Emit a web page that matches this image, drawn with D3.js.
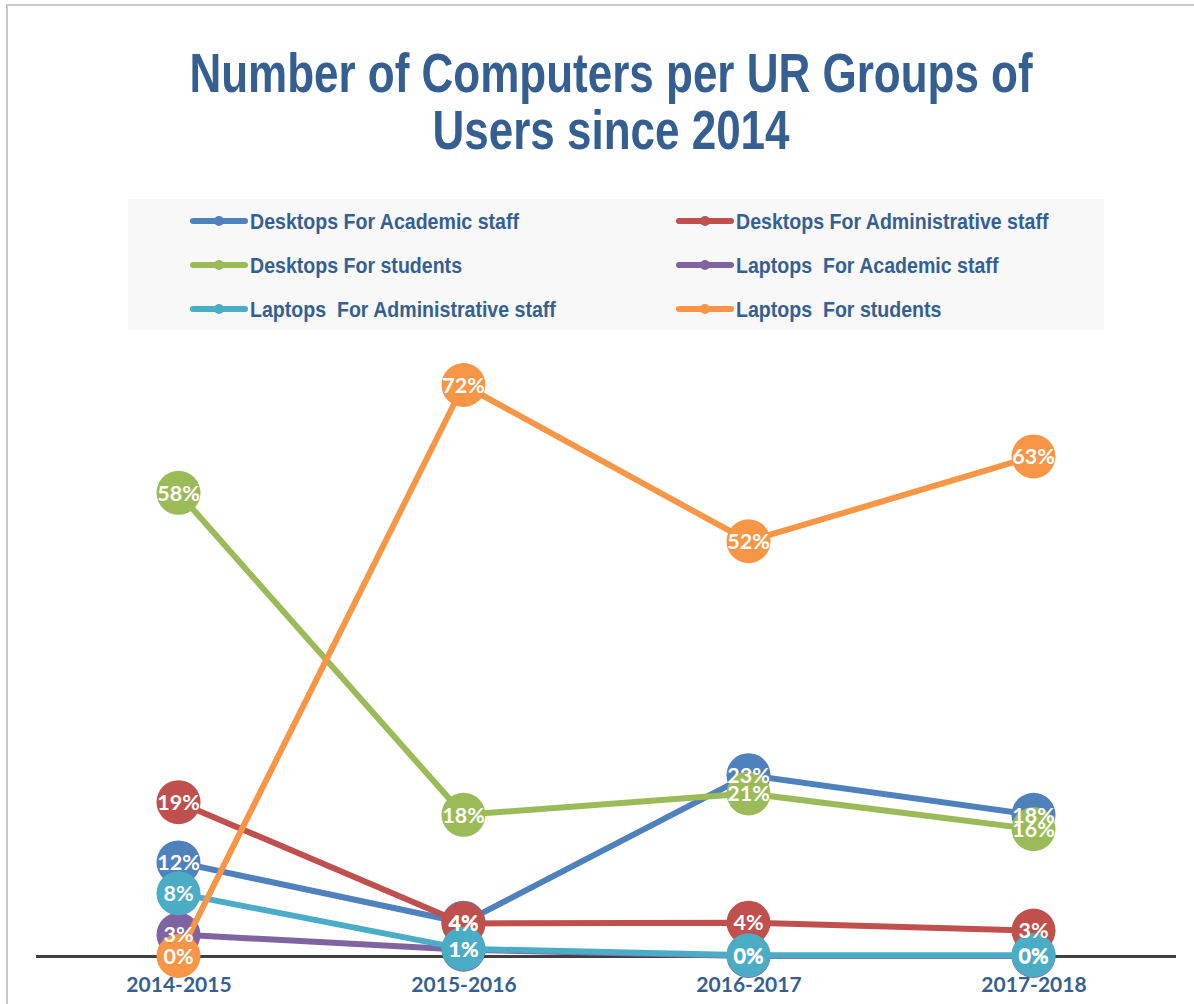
<!DOCTYPE html>
<html>
<head>
<meta charset="utf-8">
<script src="https://cdn.jsdelivr.net/npm/d3@7"></script>
<style>
  html, body { margin: 0; padding: 0; background: #fff; }
  svg { display: block; }
</style>
</head>
<body>
<div id="chart"></div>
<script>
const categories = ["2014-2015", "2015-2016", "2016-2017", "2017-2018"];
const seriesNames = [
  "Desktops For Academic staff",
  "Desktops For Administrative staff",
  "Desktops For students",
  "Laptops  For Academic staff",
  "Laptops  For Administrative staff",
  "Laptops  For students"
];
const seriesColors = ["#4f81bd", "#c0504d", "#9bbb59", "#8064a2", "#4bacc6", "#f79646"];
const desktopsAcademic = [11.8, 4.2, 22.8, 17.8];
const desktopsAdmin    = [19.4, 4.1, 4.2, 3.2];
const desktopsStudents = [58.4, 17.8, 20.5, 16.0];
const laptopsAcademic  = [2.7, 0.8, 0.0, 0.0];
const laptopsAdmin     = [7.9, 0.9, 0.1, 0.1];
const laptopsStudents  = [0.0, 72.0, 52.3, 63.0];
const titleLines = ["Number of Computers per UR Groups of", "Users since 2014"];

const seriesValues = [desktopsAcademic, desktopsAdmin, desktopsStudents, laptopsAcademic, laptopsAdmin, laptopsStudents];
const series = seriesNames.map((name, i) => ({
  name, color: seriesColors[i],
  values: seriesValues[i].map((v, j) => ({ cat: categories[j], v }))
}));

const W = 1194, H = 1004;
const svg = d3.select("#chart").append("svg").attr("width", W).attr("height", H);

// chart border
svg.append("rect").attr("x", 7).attr("y", 5).attr("width", 1220).attr("height", 1030)
  .attr("fill", "#fff").attr("stroke", "#c9c9c9").attr("stroke-width", 2);

const titleColor = "#355f91";
const narrow = "'Liberation Sans Narrow', 'Arial Narrow', 'Liberation Sans', Arial, sans-serif";

// Title (horizontally condensed to mimic a narrow bold face)
svg.append("g").selectAll("text").data(titleLines).join("text")
  .attr("transform", (d, i) => `translate(611, ${92 + i * 57}) scale(0.80, 1)`)
  .attr("text-anchor", "middle")
  .attr("font-family", narrow).attr("font-weight", "bold").attr("font-size", 55)
  .attr("fill", titleColor)
  .text(d => d);

// Legend
const lg = svg.append("g");
lg.append("rect").attr("x", 128).attr("y", 199).attr("width", 976).attr("height", 131).attr("fill", "#f8f8f8");
const legendItems = lg.selectAll("g.item").data(series).join("g").attr("class", "item")
  .attr("transform", (d, i) => `translate(${i % 2 === 0 ? 190 : 676}, ${221 + Math.floor(i / 2) * 44})`);
legendItems.append("line").attr("x1", 3).attr("x2", 55).attr("y1", 0).attr("y2", 0)
  .attr("stroke", d => d.color).attr("stroke-width", 6).attr("stroke-linecap", "round");
legendItems.append("circle").attr("cx", 29).attr("cy", 0).attr("r", 5).attr("fill", d => d.color);
legendItems.append("text").attr("transform", "translate(60, 8) scale(0.89, 1)")
  .attr("font-family", narrow).attr("font-weight", "bold").attr("font-size", 22)
  .attr("fill", titleColor)
  .attr("xml:space", "preserve").style("white-space", "pre")
  .text(d => d.name);

// Scales
const x = d3.scalePoint().domain(categories).range([36, 1176]).padding(0.5);
const y = d3.scaleLinear().domain([0, 72]).range([956, 385]);

// Axis
const xAxis = svg.append("g").attr("transform", `translate(0, ${y(0)})`)
  .call(d3.axisBottom(x).tickSize(0).tickPadding(25));
xAxis.select(".domain").attr("stroke", "#404040").attr("stroke-width", 3)
  .attr("d", `M36,0.5H1176`);
xAxis.selectAll("text")
  .attr("font-family", "Lato, 'Open Sans', sans-serif").attr("font-weight", "bold")
  .attr("font-size", 21).attr("fill", titleColor).attr("dy", "0.5em");

const line = d3.line().x(d => x(d.cat)).y(d => y(d.v));

const plot = svg.append("g");
series.forEach(s => {
  const g = plot.append("g");
  g.append("path").datum(s.values).attr("d", line)
    .attr("fill", "none").attr("stroke", s.color).attr("stroke-width", 6)
    .attr("stroke-linejoin", "round");
  g.selectAll("circle").data(s.values).join("circle")
    .attr("cx", d => x(d.cat)).attr("cy", d => y(d.v)).attr("r", 22)
    .attr("fill", s.color);
});

// Data labels on top
const labels = svg.append("g");
series.forEach(s => {
  labels.selectAll(null).data(s.values).join("text")
    .attr("x", d => x(d.cat)).attr("y", d => y(d.v))
    .attr("dy", "0.36em").attr("text-anchor", "middle")
    .attr("font-family", "Lato, 'Open Sans', sans-serif").attr("font-weight", "bold")
    .attr("font-size", 21.5).attr("fill", "#fff")
    .text(d => Math.round(d.v) + "%");
});
</script>
</body>
</html>
